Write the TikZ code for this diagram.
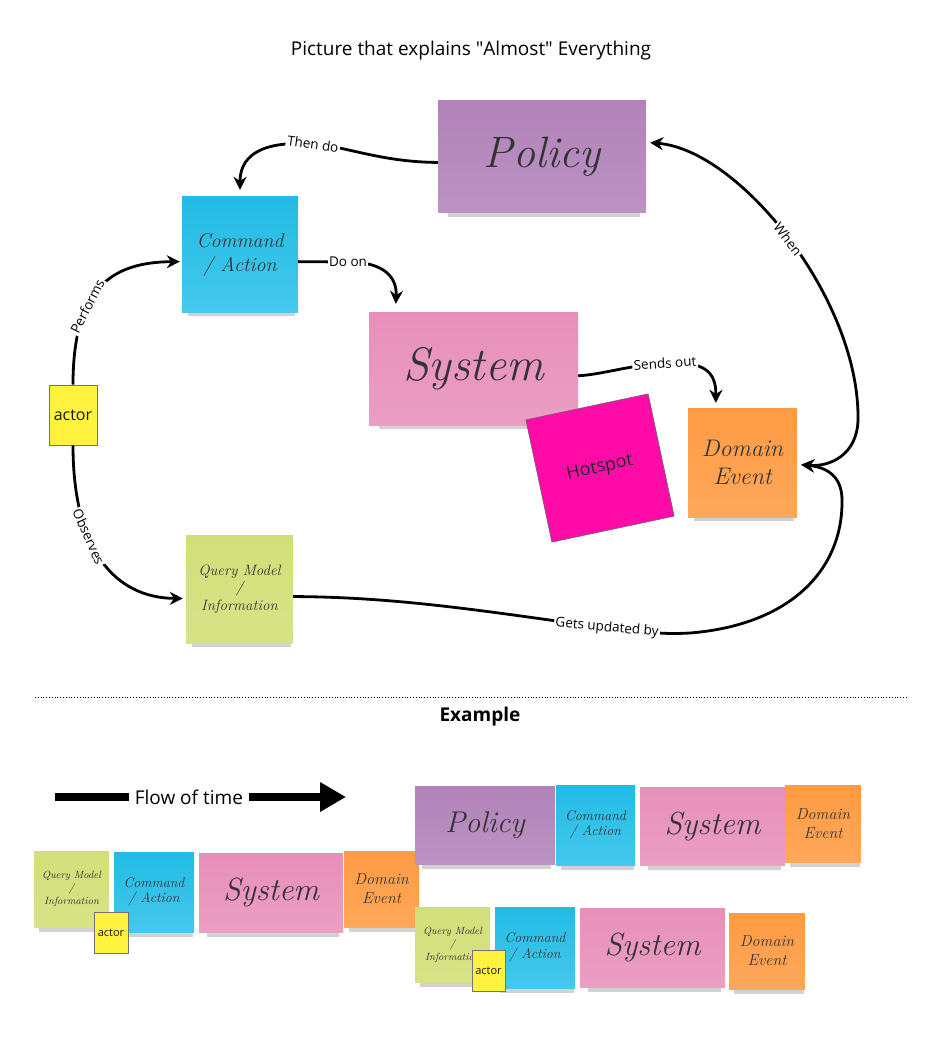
\documentclass[tikz,border=0pt]{standalone}
\usepackage{fontspec}
\setmainfont{Open Sans}
\newfontfamily\handfont{Latin Modern Roman}
\usetikzlibrary{arrows.meta,shadows}

\definecolor{policytop}{HTML}{B283B9}
\definecolor{policybot}{HTML}{BB92C3}
\definecolor{cmdtop}{HTML}{22BBE5}
\definecolor{cmdbot}{HTML}{45C8EC}
\definecolor{systop}{HTML}{E78FBA}
\definecolor{sysbot}{HTML}{EC9EC3}
\definecolor{evtop}{HTML}{FF9B44}
\definecolor{evbot}{HTML}{FFA85A}
\definecolor{qrytop}{HTML}{D2DF78}
\definecolor{qrybot}{HTML}{D8E387}
\definecolor{actorc}{HTML}{FFF23E}
\definecolor{hotc}{HTML}{FF0CA8}

\tikzset{
	note/.style={inner sep=1pt, align=center, text=black!80,
		drop shadow={shadow scale=0.92, shadow xshift=2pt, shadow yshift=-9pt, opacity=0.22, fill=black!80}},
	policynote/.style={note, top color=policytop, bottom color=policybot},
	cmdnote/.style={note, top color=cmdtop, bottom color=cmdbot},
	sysnote/.style={note, top color=systop, bottom color=sysbot},
	evnote/.style={note, top color=evtop, bottom color=evbot},
	qrynote/.style={note, top color=qrytop, bottom color=qrybot},
	hand/.style 2 args={font=\handfont\itshape\fontsize{#1}{#2}\selectfont},
	actornote/.style={fill=actorc, draw=black!55, line width=0.8pt, inner sep=0pt, text=black!90},
	hotnote/.style={fill=hotc, draw=black!60, line width=0.6pt, minimum size=125pt, text=black!85,
		font=\fontsize{18}{20}\selectfont},
	flow/.style={line width=2.8pt, -{Stealth[length=13pt,width=13pt]}},
	bothflow/.style={line width=2.8pt, {Stealth[length=13pt,width=13pt]}-{Stealth[length=13pt,width=13pt]}},
	lbl/.style={fill=white, inner sep=1.5pt, font=\fontsize{13.5}{15}\selectfont},
	timeflow/.style={line width=8pt, -{Triangle[length=26pt,width=28pt]}},
}

\begin{document}
\begin{tikzpicture}[x=1pt,y=-1pt]
	\useasboundingbox (0,0) rectangle (944,1059);

	\node[font=\fontsize{19}{22}\selectfont] (title) at (471,51) {Picture that explains \textquotedbl Almost\textquotedbl\ Everything};

	% big picture
	\node[policynote, hand={44}{48}, minimum width=208pt, minimum height=112pt] (policy) at (542,157) {Policy};
	\node[cmdnote, hand={20}{24}, minimum width=116pt, minimum height=115pt] (cmd) at (240,254.5) {Command\\/ Action};
	\node[sysnote, hand={47}{50}, minimum width=209pt, minimum height=113pt] (system) at (473.5,368.5) {System};
	\node[hotnote, rotate=12] (hotspot) at (600,468) {Hotspot};
	\node[evnote, hand={24}{28}, minimum width=109pt, minimum height=109pt] (event) at (742.5,462.5) {Domain\\Event};
	\node[qrynote, hand={15}{17.5}, minimum width=107pt, minimum height=108pt] (query) at (239.5,589) {Query Model\\/\\Information};
	\node[actornote, minimum width=48pt, minimum height=60pt, font=\fontsize{16}{18}\selectfont] (actor) at (73,415) {actor};

	\draw[flow, shorten >=7pt] (policy.183) .. controls (380,162) and (345,146) .. (313,144) node[lbl, rotate=-8] {Then do}
		.. controls (255,140) and (240,160) .. (cmd.north);
	\draw[flow, shorten >=8pt] (cmd.-7) -- (348,262) node[lbl] {Do on}
		.. controls (385,262) and (397,278) .. (system.144);
	\draw[flow, shorten >=2pt] (actor.north) .. controls (73,290) and (110,262) .. node[lbl, sloped, pos=0.36] {Performs} (cmd.187);
	\draw[flow, shorten >=3pt] (actor.south) .. controls (73,550) and (115,598) .. node[lbl, sloped, pos=0.36] {Observes} (query.190);
	\draw[flow, shorten >=5pt] (system.-4) .. controls (605,374) and (625,366) .. (665,363) node[lbl, rotate=4] {Sends out}
		.. controls (705,361) and (716,372) .. (event.116);
	\draw[bothflow, shorten <=4pt, shorten >=4pt] (policy.8) .. controls (740,150) and (860,300) .. (858,420) node[lbl, sloped, pos=0.5] {When}
		.. controls (857,455) and (830,467) .. (event.-2);
	\draw[flow, shorten >=4pt] (query.-8) .. controls (400,597) and (490,612) .. (607,628) node[lbl, rotate=-5] {Gets updated by}
		.. controls (660,634) and (670,634) .. (690,633)
		.. controls (790,625) and (843,570) .. (842,500)
		.. controls (842,475) and (825,467) .. (event.-2);

	% separator
	\coordinate (sepl) at (35,697);
	\coordinate (sepr) at (906,697);
	\draw[dotted, line width=0.8pt] (sepl) -- (sepr);
	\node[font=\bfseries\fontsize{19}{22}\selectfont] (example) at (480,717) {Example};

	% flow of time
	\coordinate (timel) at (55,797);
	\coordinate (timer) at (346,797);
	\draw[timeflow] (timel) -- node[fill=white, inner sep=6pt, pos=0.46, font=\fontsize{19}{22}\selectfont] (timetext) {Flow of time} (timer);

	% example, left row
	\node[qrynote, hand={10.5}{13}, minimum width=75pt, minimum height=76pt] (qryA) at (71.5,889) {Query Model\\/\\Information};
	\node[cmdnote, hand={14}{15.5}, minimum width=80pt, minimum height=80pt] (cmdA) at (154,892) {Command\\/ Action};
	\node[sysnote, hand={32}{34}, minimum width=144pt, minimum height=79pt] (sysA) at (271,892.5) {System};
	\node[evnote, hand={16}{19}, minimum width=75pt, minimum height=76pt] (evA) at (381.5,889) {Domain\\Event};
	\node[actornote, minimum width=34pt, minimum height=41pt, font=\fontsize{11}{13}\selectfont] (actorA) at (111,932.5) {actor};

	% example, right upper row
	\node[policynote, hand={30}{32}, minimum width=140pt, minimum height=78pt] (policyB) at (485,825) {Policy};
	\node[cmdnote, hand={14}{15.5}, minimum width=79pt, minimum height=80pt] (cmdB) at (595.5,825) {Command\\/ Action};
	\node[sysnote, hand={32}{34}, minimum width=145pt, minimum height=78pt] (sysB) at (712.5,826) {System};
	\node[evnote, hand={16}{19}, minimum width=76pt, minimum height=77pt] (evB) at (823,823.5) {Domain\\Event};

	% example, right lower row
	\node[qrynote, hand={10.5}{13}, minimum width=75pt, minimum height=75pt] (qryC) at (452.5,944.5) {Query Model\\/\\Information};
	\node[cmdnote, hand={14}{15.5}, minimum width=80pt, minimum height=81pt] (cmdC) at (535,947.5) {Command\\/ Action};
	\node[sysnote, hand={32}{34}, minimum width=145pt, minimum height=79pt] (sysC) at (652.5,947.5) {System};
	\node[evnote, hand={16}{19}, minimum width=76pt, minimum height=76pt] (evC) at (767,951) {Domain\\Event};
	\node[actornote, minimum width=33pt, minimum height=41pt, font=\fontsize{11}{13}\selectfont] (actorC) at (488.5,970.5) {actor};
\end{tikzpicture}
\end{document}
